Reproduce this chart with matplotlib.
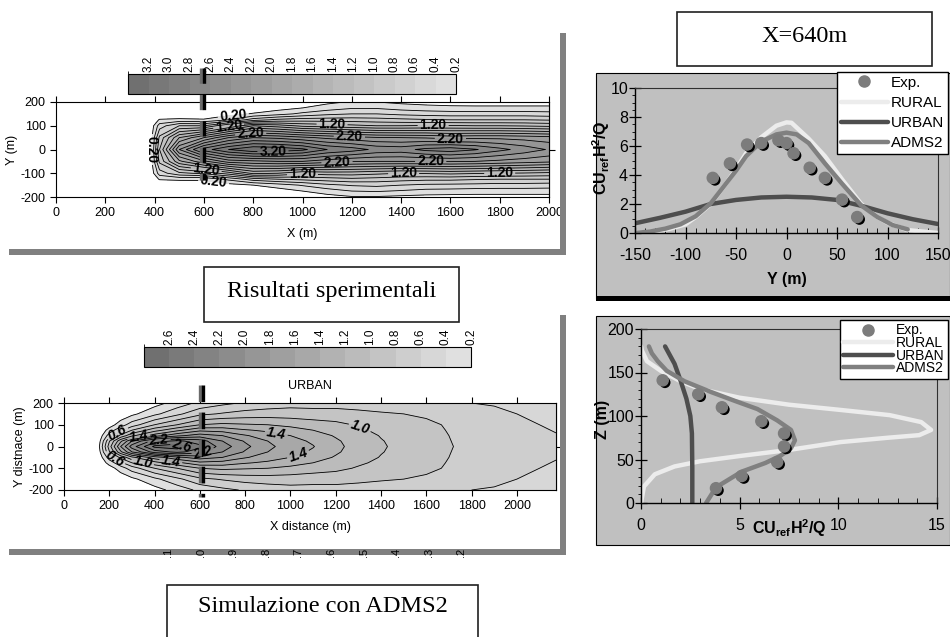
import matplotlib
matplotlib.use('Agg')
import matplotlib.pyplot as plt
import matplotlib.patheffects as pe
from matplotlib.colors import ListedColormap, BoundaryNorm
from matplotlib.patches import Rectangle
import numpy as np

plt.rcParams['font.family'] = ['Liberation Sans', 'DejaVu Sans']
plt.rcParams['mathtext.default'] = 'regular'
plt.rcParams['lines.scale_dashes'] = False
plt.rcParams['axes.unicode_minus'] = False

# ---- experimental field (top-left), concentration read on a coarse grid
exp_x = [300, 380, 420, 500, 600, 700, 800, 900, 1000, 1100, 1200, 1300, 1400, 1500, 1600, 1700, 1800, 1900, 2000]
exp_y = [200, 175, 150, 125, 100, 50, 0, -50, -100, -125, -150, -175, -200]
exp_c = [
    [0, 0, 0, 0, 0, 0, 0, 0, 0.05, 0.15, 0.22, 0.2, 0.15, 0.12, 0.1, 0.1, 0.1, 0.1, 0.1],
    [0, 0, 0, 0, 0, 0, 0.05, 0.12, 0.2, 0.3, 0.38, 0.38, 0.32, 0.28, 0.26, 0.25, 0.25, 0.25, 0.25],
    [0, 0, 0, 0, 0.05, 0.12, 0.22, 0.32, 0.45, 0.55, 0.6, 0.6, 0.55, 0.52, 0.5, 0.5, 0.5, 0.5, 0.48],
    [0, 0, 0.22, 0.25, 0.22, 0.4, 0.7, 0.85, 0.9, 0.9, 0.9, 0.88, 0.85, 0.82, 0.8, 0.8, 0.8, 0.8, 0.78],
    [0, 0, 0.5, 0.8, 0.8, 1.2, 1.6, 1.5, 1.35, 1.3, 1.25, 1.2, 1.2, 1.22, 1.22, 1.2, 1.2, 1.18, 1.15],
    [0, 0, 0.85, 1.6, 2.0, 2.4, 2.6, 2.55, 2.45, 2.35, 2.28, 2.22, 2.2, 2.18, 2.12, 2.15, 2.15, 2.12, 2.08],
    [0, 0, 1.0, 2.2, 2.9, 3.2, 3.38, 3.35, 3.25, 3.0, 2.9, 2.75, 2.72, 2.86, 2.92, 2.82, 2.66, 2.52, 2.38],
    [0, 0, 0.85, 1.55, 1.95, 2.3, 2.35, 2.4, 2.4, 2.3, 2.22, 2.2, 2.2, 2.2, 2.22, 2.2, 2.15, 2.1, 2.05],
    [0, 0, 0.5, 0.75, 0.85, 1.1, 1.45, 1.4, 1.25, 1.3, 1.3, 1.25, 1.2, 1.22, 1.25, 1.22, 1.2, 1.18, 1.15],
    [0, 0, 0.22, 0.25, 0.24, 0.45, 0.7, 0.8, 0.85, 0.9, 0.95, 0.92, 0.88, 0.85, 0.85, 0.82, 0.8, 0.8, 0.8],
    [0, 0, 0, 0, 0.05, 0.12, 0.2, 0.3, 0.42, 0.55, 0.62, 0.65, 0.6, 0.56, 0.55, 0.54, 0.52, 0.52, 0.5],
    [0, 0, 0, 0, 0, 0, 0.05, 0.1, 0.2, 0.3, 0.4, 0.42, 0.38, 0.33, 0.32, 0.3, 0.3, 0.3, 0.3],
    [0, 0, 0, 0, 0, 0, 0, 0, 0.05, 0.12, 0.18, 0.18, 0.15, 0.13, 0.12, 0.12, 0.12, 0.12, 0.12],
]
exp_levels = [0.2, 0.4, 0.6, 0.8, 1.0, 1.2, 1.4, 1.6, 1.8, 2.0, 2.2, 2.4, 2.6, 2.8, 3.0, 3.2, 3.4]
exp_labelled = [0.2, 1.2, 2.2, 3.2]
# where the contour labels sit in the reference
exp_label_at = [(390, 0), (720, 135), (700, 100), (790, 65), (880, 0), (1120, 110),
                (1190, 50), (1140, -55), (1000, -105), (640, -132), (610, -80),
                (1530, 95), (1600, 30), (1520, -55), (1410, -115), (1800, -110)]

# ---- ADMS2 URBAN field (bottom-left), half plume (y >= 0), mirrored below
sim_x = [100, 150, 200, 250, 300, 400, 500, 600, 700, 800, 900, 1000, 1100, 1200, 1300, 1400, 1500, 1600, 1700, 1800, 1900, 2000, 2100, 2173]
sim_y_half = [0, 25, 50, 75, 100, 150, 200]
sim_c_half = [
    [0, 0.1, 0.9, 1.6, 2.1, 2.65, 2.72, 2.45, 2.1, 1.85, 1.65, 1.5, 1.41, 1.25, 1.12, 1.02, 0.95, 0.88, 0.81, 0.76, 0.72, 0.68, 0.65, 0.63],
    [0, 0.06, 0.78, 1.35, 1.8, 2.3, 2.45, 2.3, 2.0, 1.78, 1.6, 1.47, 1.37, 1.23, 1.1, 1.01, 0.94, 0.875, 0.805, 0.755, 0.715, 0.675, 0.645, 0.622],
    [0, 0.02, 0.5, 0.85, 1.15, 1.5, 1.75, 1.9, 1.8, 1.62, 1.5, 1.4, 1.3, 1.18, 1.08, 0.99, 0.93, 0.87, 0.8, 0.75, 0.71, 0.67, 0.635, 0.61],
    [0, 0, 0.28, 0.55, 0.8, 1.12, 1.35, 1.55, 1.52, 1.42, 1.36, 1.28, 1.2, 1.12, 1.03, 0.96, 0.905, 0.855, 0.79, 0.74, 0.7, 0.655, 0.62, 0.59],
    [0, 0, 0.1, 0.3, 0.5, 0.8, 1.0, 1.2, 1.25, 1.22, 1.2, 1.15, 1.1, 1.05, 0.98, 0.92, 0.88, 0.84, 0.78, 0.73, 0.69, 0.64, 0.6, 0.57],
    [0, 0, 0, 0.05, 0.15, 0.35, 0.55, 0.75, 0.82, 0.88, 0.9, 0.9, 0.88, 0.88, 0.85, 0.82, 0.8, 0.77, 0.73, 0.69, 0.65, 0.6, 0.56, 0.53],
    [0, 0, 0, 0, 0, 0.12, 0.28, 0.45, 0.55, 0.62, 0.68, 0.72, 0.72, 0.72, 0.71, 0.7, 0.68, 0.66, 0.63, 0.6, 0.58, 0.55, 0.51, 0.49],
]
sim_levels = [0.2, 0.4, 0.6, 0.8, 1.0, 1.2, 1.4, 1.6, 1.8, 2.0, 2.2, 2.4, 2.6, 2.8]
sim_labelled = [0.4, 0.6, 1.0, 1.4, 2.2, 2.6]
sim_label_at = [(240, 55), (330, 40), (420, 20), (520, 5), (615, -30), (225, -55),
                (350, -60), (470, -80), (940, 76), (1300, 67), (1040, -55)]
cut_labels = ['.1', '.0', '.9', '.8', '.7', '.6', '.5', '.4', '.3', '.2']

# ---- transverse profile at X=640m (top-right)
tr_exp_y = [-73, -56, -39, -25, -8, 0, 7, 23, 38, 55, 70]
tr_exp_c = [3.8, 4.8, 6.1, 6.2, 6.4, 6.2, 5.5, 4.5, 3.8, 2.3, 1.1]
tr_rural_y = [-150, -130, -115, -100, -90, -75, -60, -50, -40, -25, -10, 0, 5, 22, 38, 55, 74, 90, 100, 120, 150]
tr_rural_c = [0.0, 0.1, 0.3, 0.6, 1.1, 2.0, 3.4, 4.4, 5.5, 6.6, 7.4, 7.63, 7.6, 6.5, 5.3, 3.7, 2.0, 1.1, 0.7, 0.2, 0.0]
tr_urban_y = [-150, -125, -100, -75, -50, -25, 0, 25, 50, 75, 100, 125, 150]
tr_urban_c = [0.67, 1.05, 1.47, 2.0, 2.28, 2.45, 2.5, 2.45, 2.28, 1.86, 1.36, 0.95, 0.62]
tr_adms_y = [-150, -135, -120, -105, -90, -75, -60, -50, -40, -25, -10, 0, 10, 22, 38, 55, 74, 90, 105, 120]
tr_adms_c = [0.0, 0.1, 0.3, 0.6, 1.15, 2.05, 3.4, 4.3, 5.3, 6.3, 6.8, 6.92, 6.8, 6.2, 4.8, 3.4, 1.9, 1.1, 0.55, 0.25]

# ---- vertical profile (bottom-right)
vp_exp_c = [1.1, 2.9, 4.1, 6.1, 7.25, 7.25, 6.9, 5.1, 3.8]
vp_exp_z = [141, 125, 110, 94, 80, 65, 47, 31, 17]
vp_rural_c = [0.0, 0.15, 0.7, 1.7, 3.0, 5.0, 7.5, 10.1, 12.5, 14.1, 14.7, 14.2, 12.6, 10.1, 7.5, 5.0, 3.0, 2.0, 1.0, 0.3, 0.05, 0.0]
vp_rural_z = [0, 19, 33, 42, 48, 54, 61, 70, 75, 78, 84, 93, 101, 107, 113, 121, 131, 140, 152, 163, 175, 180]
vp_urban_c = [2.6, 2.6, 2.58, 2.5, 2.3, 2.0, 1.7, 1.22]
vp_urban_z = [0, 40, 80, 100, 120, 141, 160, 180]
vp_adms_c = [3.3, 3.8, 5.1, 6.3, 7.05, 7.6, 7.8, 7.6, 6.9, 5.9, 4.8, 3.5, 2.2, 1.3, 0.85, 0.55, 0.4]
vp_adms_z = [0, 18, 36, 46, 54, 63, 72, 84, 95, 108, 117, 128, 140, 152, 163, 172, 180]

W, H = 950, 637
fig = plt.figure(figsize=(W / 100, H / 100), dpi=100)


def box(x0, y0, x1, y1):
    # pixel box, origin top-left -> figure fraction
    return [x0 / W, 1 - y1 / H, (x1 - x0) / W, (y1 - y0) / H]


def rect(x0, y0, x1, y1, **kw):
    b = box(x0, y0, x1, y1)
    fig.add_artist(Rectangle((b[0], b[1]), b[2], b[3], transform=fig.transFigure, **kw))


def greys(n, light=0.88, dark=0.44):
    return ListedColormap([str(g) for g in np.linspace(light, dark, n)])


def contour_panel(ax, cax, x, y, c, levels, labelled, label_at, fmt, italic):
    cmap = greys(len(levels) - 1)
    norm = BoundaryNorm(levels, cmap.N)
    ax.contourf(x, y, c, levels=levels, cmap=cmap, norm=norm)
    plain = [v for v in levels[:-1] if v not in labelled]
    ax.contour(x, y, c, levels=plain, colors='black', linewidths=0.6)
    cs = ax.contour(x, y, c, levels=labelled, colors='black', linewidths=0.6)
    for t in ax.clabel(cs, fmt=fmt, fontsize=10, inline=True, inline_spacing=2,
                       manual=label_at):
        t.set_fontweight('bold')
        if italic:
            t.set_fontstyle('italic')
    sm = plt.cm.ScalarMappable(norm=norm, cmap=cmap)
    cb = fig.colorbar(sm, cax=cax, orientation='horizontal', ticklocation='top',
                      drawedges=True, ticks=levels[:-1], format='%.1f')
    cax.invert_xaxis()
    cax.tick_params(length=0, labelsize=8.5, labelrotation=90, pad=1.5)
    cb.outline.set_linewidth(0.8)
    cb.dividers.set_linewidth(0.8)
    ax.tick_params(labelsize=9, length=4, width=0.8, top=True, direction='out')
    for s in ax.spines.values():
        s.set_linewidth(0.8)


dash_fx = [pe.SimpleLineShadow(offset=(-1.8, 0), shadow_color='#6a6a6a', alpha=1), pe.Normal()]

# ================= top-left: experimental results =================
cax1 = fig.add_axes(box(128, 74, 456, 94))
ax1 = fig.add_axes(box(56, 102, 549, 197))
ax1.set_xlim(0, 2000)
ax1.set_ylim(-200, 200)
contour_panel(ax1, cax1, exp_x, exp_y, exp_c, exp_levels, exp_labelled, exp_label_at, '%.2f', False)
ax1.set_xlim(0, 2000)
ax1.set_ylim(-200, 200)
ax1.set_xticks(range(0, 2001, 200))
ax1.set_yticks(range(-200, 201, 100))
ax1.set_xlabel('X (m)', fontsize=9, labelpad=6)
ax1.set_ylabel('Y (m)', fontsize=9, labelpad=2)
sec1 = ax1.secondary_yaxis('right')
sec1.set_yticks([0])
sec1.tick_params(labelright=False, length=4)
ax1.plot([600, 600], [343, -128], color='black', lw=2.4, ls=(0, (11, 8)),
         solid_capstyle='butt', clip_on=False, zorder=6, path_effects=dash_fx)

# ================= bottom-left: ADMS2 URBAN =================
sim_y = sim_y_half[::-1] + [-v for v in sim_y_half[1:]]
sim_c = sim_c_half[::-1] + sim_c_half[1:]
cax2 = fig.add_axes(box(144, 347, 471, 367))
ax2 = fig.add_axes(box(64, 403, 556, 490))
ax2.set_xlim(0, 2173)
ax2.set_ylim(-200, 200)
contour_panel(ax2, cax2, sim_x, sim_y, sim_c, sim_levels, sim_labelled, sim_label_at, '%.1f', True)
ax2.set_xlim(0, 2173)
ax2.set_ylim(-200, 200)
ax2.set_xticks(range(0, 2001, 200))
ax2.set_yticks(range(-200, 201, 100))
ax2.set_xlabel('X distance (m)', fontsize=9, labelpad=6)
ax2.set_ylabel('Y distnace (m)', fontsize=9, labelpad=2)
ax2.text(0.5, 1.2, 'URBAN', transform=ax2.transAxes, ha='center', va='center', fontsize=9)
sec2 = ax2.secondary_yaxis('right')
sec2.set_yticks([0])
sec2.tick_params(labelright=False, length=4)
ax2.plot([613, 613], [283, -232], color='black', lw=2.4, ls=(0, (12, 7.5)),
         solid_capstyle='butt', clip_on=False, zorder=6, path_effects=dash_fx)

# shadow frames of the two left charts
for b in [(560, 33, 566, 255), (9, 249, 566, 255), (560, 315, 566, 555), (9, 549, 566, 555)]:
    rect(*b, facecolor='#808080', edgecolor='none', zorder=3)
for i, s in enumerate(cut_labels):
    fig.text((168 + 32.6 * i) / W, 1 - 552 / H, s, rotation=90, ha='center', va='center',
             fontsize=8, zorder=4)


# ================= caption boxes =================
def caption(x0, y0, x1, y1, text, ty):
    rect(x0, y0, x1, y1, facecolor='white', edgecolor='#202020', lw=1.2, zorder=2)
    fig.text((x0 + x1) / 2 / W, 1 - ty / H, text, ha='center', va='center',
             family='Liberation Serif', fontsize=17.5, zorder=3)


caption(204, 267, 459, 322, 'Risultati sperimentali', 291)
caption(167, 585, 478, 660, 'Simulazione con ADMS2', 607)
caption(677, 12, 932, 66, 'X=640m', 37)

# ================= right panels =================
rect(596, 73, 950, 299, facecolor='#c0c0c0', edgecolor='black', lw=0.8, zorder=-2)
rect(596, 296, 950, 301, facecolor='black', edgecolor='none', zorder=-1)
rect(596, 316, 950, 545, facecolor='#c0c0c0', edgecolor='black', lw=0.8, zorder=-2)

line_kw = dict(lw=3.2, solid_capstyle='round', solid_joinstyle='round')
dot_fx = [pe.SimplePatchShadow(offset=(1.6, -1.6), shadow_rgbFace='black', alpha=1), pe.Normal()]
ylab = 'CU$_{ref}$H$^{2}$/Q'


def style_right(ax, fs):
    ax.set_facecolor('#c0c0c0')
    for k in ('left', 'bottom'):
        ax.spines[k].set_color('black')
        ax.spines[k].set_linewidth(1.0)
    for k in ('top', 'right'):
        ax.spines[k].set_color('#303030')
        ax.spines[k].set_linewidth(0.8)
    ax.tick_params(which='major', direction='inout', length=8, width=0.9, labelsize=fs)


def legend_right(ax, handles, top, fs, spacing, hlen):
    lg = ax.legend(handles, ['Exp.', 'RURAL', 'URBAN', 'ADMS2'],
                   loc='upper right', bbox_to_anchor=(948 / W, 1 - top / H),
                   bbox_transform=fig.transFigure, fontsize=fs,
                   frameon=True, fancybox=False, framealpha=1, edgecolor='black',
                   borderpad=0.25, labelspacing=spacing, handlelength=hlen,
                   handletextpad=0.2, borderaxespad=0)
    lg.get_frame().set_linewidth(1.0)
    lg.set_zorder(10)
    for h in lg.legend_handles:
        h.set_path_effects([])


# ---- top-right: transverse profile
ax3 = fig.add_axes(box(635, 88, 938, 233))
style_right(ax3, 11.5)
r1, = ax3.plot(tr_rural_y, tr_rural_c, color='#ececec', label='RURAL', **line_kw)
u1, = ax3.plot(tr_urban_y, tr_urban_c, color='#4e4e4e', label='URBAN', **line_kw)
a1, = ax3.plot(tr_adms_y, tr_adms_c, color='#808080', label='ADMS2', **line_kw)
e1, = ax3.plot(tr_exp_y, tr_exp_c, 'o', ms=8, color='#7c7c7c', label='Exp.',
               path_effects=dot_fx, zorder=4)
ax3.set_xlim(-150, 150)
ax3.set_ylim(0, 10)
ax3.set_xticks(range(-150, 151, 50))
ax3.set_xticks(range(-150, 151, 10), minor=True)
ax3.set_yticks(range(0, 11, 2))
ax3.set_yticks(np.arange(0, 10.01, 0.5), minor=True)
ax3.tick_params(axis='x', which='major', pad=7)
ax3.tick_params(axis='y', which='major', pad=1)
ax3.tick_params(axis='x', which='minor', direction='in', length=3.5)
ax3.tick_params(axis='y', which='minor', direction='out', length=2.5)
ax3.set_xlabel('Y (m)', fontsize=11.5, fontweight='bold')
ax3.xaxis.set_label_coords(0.5, -0.27)
ax3.set_ylabel(ylab, fontsize=11.5, fontweight='bold')
ax3.yaxis.set_label_coords(-0.075, 0.52)
legend_right(ax3, [e1, r1, u1, a1], 72, 11, 0.4, 3.1)

# ---- bottom-right: vertical profile
ax4 = fig.add_axes(box(641, 329, 937, 503))
style_right(ax4, 11.5)
r2, = ax4.plot(vp_rural_c, vp_rural_z, color='#ececec', label='RURAL', **line_kw)
u2, = ax4.plot(vp_urban_c, vp_urban_z, color='#4e4e4e', label='URBAN', **line_kw)
a2, = ax4.plot(vp_adms_c, vp_adms_z, color='#808080', label='ADMS2', **line_kw)
e2, = ax4.plot(vp_exp_c, vp_exp_z, 'o', ms=8, color='#7c7c7c', label='Exp.',
               path_effects=dot_fx, zorder=4)
ax4.set_xlim(0, 15)
ax4.set_ylim(0, 200)
ax4.set_xticks([0, 5, 10, 15])
ax4.set_xticks(range(0, 16), minor=True)
ax4.set_yticks(range(0, 201, 50))
ax4.set_yticks(range(0, 201, 10), minor=True)
ax4.tick_params(axis='x', which='major', pad=7)
ax4.tick_params(axis='y', which='major', pad=1)
ax4.tick_params(axis='x', which='minor', direction='in', length=3.5)
ax4.tick_params(axis='y', which='minor', direction='out', length=2.5)
ax4.set_xlabel(ylab, fontsize=11.5, fontweight='bold')
ax4.xaxis.set_label_coords(0.5, -0.085)
ax4.set_ylabel('Z (m)', fontsize=11.5, fontweight='bold')
ax4.yaxis.set_label_coords(-0.105, 0.48)
legend_right(ax4, [e2, r2, u2, a2], 320, 10, -0.1, 3.6)

fig.savefig('out.png', dpi=100)
